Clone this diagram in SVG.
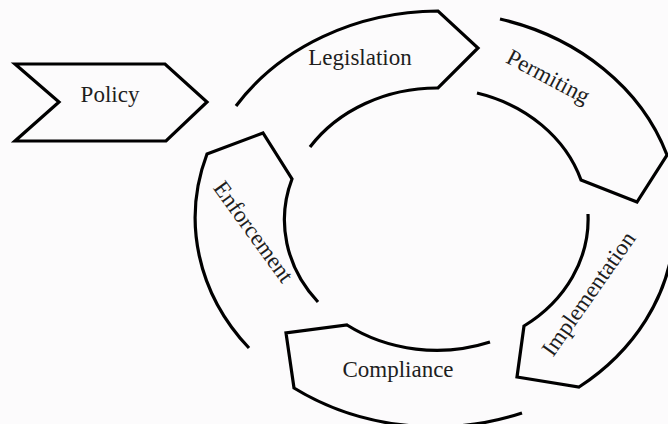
<svg xmlns="http://www.w3.org/2000/svg" width="668" height="424" viewBox="0 0 668 424">
  <style>
    .shape { fill: none; stroke: #000; stroke-width: 3.2; stroke-linejoin: miter; stroke-linecap: butt; }
    .label { font-family: "Liberation Serif", "Times New Roman", serif; font-size: 23px; fill: #1e1e1e; text-anchor: middle; }
  </style>
  <rect x="0" y="0" width="668" height="424" fill="#fcfbfc"/>

  <!-- Policy chevron feeding the cycle -->
  <g id="policy">
    <polygon class="shape" points="15,64 59,102 15,141 166,141 207,102 165,64"/>
    <text class="label" x="110" y="102">Policy</text>
  </g>

  <!-- Cycle stages: block arcs with pointed clockwise ends -->
  <g id="legislation">
    <path class="shape" d="M236,106 A242,207 0 0 1 438,11 L478,48 L438,88 A152,131 0 0 0 310,147"/>
    <text class="label" x="360" y="65">Legislation</text>
  </g>

  <g id="permiting">
    <path class="shape" d="M500,19 A242,207 0 0 1 667,155 L637,202 L581,180 A152,131 0 0 0 477,93"/>
    <text class="label" transform="translate(548,77) rotate(28)" x="0" y="7">Permiting</text>
  </g>

  <g id="implementation">
    <path class="shape" d="M674,236 A242,207 0 0 1 579,387 L517,377 L524,326 A152,131 0 0 0 588,214"/>
    <text class="label" transform="translate(589,294) rotate(-55)" x="0" y="7">Implementation</text>
  </g>

  <g id="compliance">
    <path class="shape" d="M522,413 A242,207 0 0 1 294,388 L286,333 L347,325 A152,131 0 0 0 490,342"/>
    <text class="label" x="398" y="377">Compliance</text>
  </g>

  <g id="enforcement">
    <path class="shape" d="M249,348 A242,207 0 0 1 207,154 L263,133 L292,179 A152,131 0 0 0 318,302"/>
    <text class="label" transform="translate(253,232) rotate(54)" x="0" y="7">Enforcement</text>
  </g>

  <g id="connectors"></g>
</svg>
